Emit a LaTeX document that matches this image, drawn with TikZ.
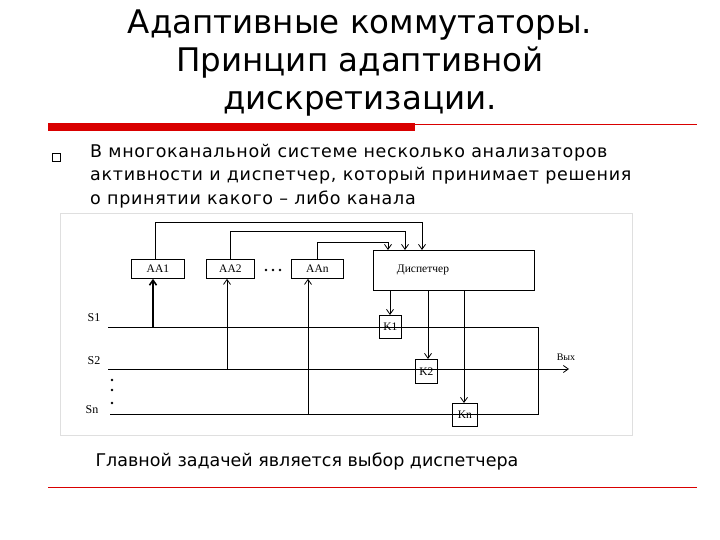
\documentclass[tikz,border=0pt]{standalone}
\usepackage{fontspec}
\setmainfont{DejaVu Sans}
\newfontfamily\serifd{Liberation Serif}
\usetikzlibrary{arrows.meta}
\begin{document}
\begin{tikzpicture}[x=1pt,y=-1pt,
  bx/.style={draw,line width=0.8pt,inner sep=0pt,anchor=north west,font=\serifd\fontsize{11.5}{12}\selectfont},
  ln/.style={line width=0.8pt},
  ar/.style={line width=0.8pt,-{Straight Barb[length=5pt,width=7pt]}},
  lb/.style={font=\serifd\fontsize{12}{12}\selectfont}]
\useasboundingbox (0,0) rectangle (720,540);
\node[align=center,font=\fontsize{32.5}{38}\selectfont] (title) at (360,63) {Адаптивные коммутаторы.\\Принцип адаптивной\\дискретизации.};
\fill[red!85!black] (48,123) rectangle (415,131);
\draw[red!85!black,line width=0.8pt] (415,124) -- (697,124);
\node[draw,line width=0.8pt,minimum size=8pt,inner sep=0pt] (bul) at (56,157) {};
\node[anchor=north west,align=left,font=\fontsize{17.5}{23.5}\selectfont\addfontfeature{LetterSpace=4},inner sep=0pt] (txt) at (90,144) {В многоканальной системе несколько анализаторов\\активности и диспетчер, который принимает решения\\о принятии какого – либо канала};
\draw[gray!25] (60,213) rectangle (632,435);
% boxes
\node[bx,minimum width=53pt,minimum height=19pt] (aa1) at (131,259) {AA1};
\node[bx,minimum width=48pt,minimum height=19pt] (aa2) at (206,259) {AA2};
\node[bx,minimum width=52pt,minimum height=19pt] (aan) at (291,259) {AAn};
\node[bx,minimum width=161pt,minimum height=40pt] (disp) at (373,250) {};
\node[font=\serifd\fontsize{11.5}{12}\selectfont] (dl) at (423,270) {Диспетчер};
\node[bx,minimum width=22pt,minimum height=23pt] (k1) at (379,315) {K1};
\node[bx,minimum width=22pt,minimum height=24pt] (k2) at (415,359) {K2};
\node[bx,minimum width=25pt,minimum height=23pt] (kn) at (452,403) {Kn};
\foreach \x in {266,273,280} \fill (\x,270) circle (1.4pt);
\foreach \y in {380,390,403} \fill (112,\y) circle (1.4pt);
% labels
\node[lb] (s1) at (94,318) {S1};
\node[lb] (s2) at (94,361) {S2};
\node[lb] (sn) at (92,410) {Sn};
\node[font=\serifd\fontsize{10}{10}\selectfont] (out) at (566,357) {Вых};
% signal lines
\coordinate (s1a) at (108,327); \coordinate (s1b) at (538,327);
\coordinate (s2a) at (108,369); \coordinate (s2b) at (569,369);
\coordinate (sna) at (110,414); \coordinate (snb) at (538,414);
\draw[ln] (s1a) -- (s1b) -- (snb) -- (sna);
\draw[ar] (s2a) -- (s2b);
% feeds to AA
\draw[line width=1.6pt,-{Straight Barb[length=5pt,width=7pt]}] (153,327) -- (aa1.south -| 153,0);
\draw[ar] (227,369) -- (aa2.south -| 227,0);
\draw[ar] (308,414) -- (aan.south -| 308,0);
% to dispatcher
\draw[ar] (aa1.north -| 155,0) |- (422,222) -- (disp.north -| 422,0);
\draw[ar] (aa2.north -| 230,0) |- (405,231) -- (disp.north -| 405,0);
\draw[ar] (aan.north -| 317,0) |- (388,242) -- (disp.north -| 388,0);
% dispatcher to keys
\draw[ar] (disp.south -| 390,0) -- (k1.north -| 390,0);
\draw[ar] (disp.south -| 428,0) -- (k2.north -| 428,0);
\draw[ar] (disp.south -| 464,0) -- (kn.north -| 464,0);
\node[anchor=west,font=\fontsize{17.5}{20}\selectfont] (cap) at (92,462) {Главной задачей является выбор диспетчера};
\draw[red!85!black,line width=0.8pt] (48,487) -- (697,487);
\end{tikzpicture}
\end{document}
